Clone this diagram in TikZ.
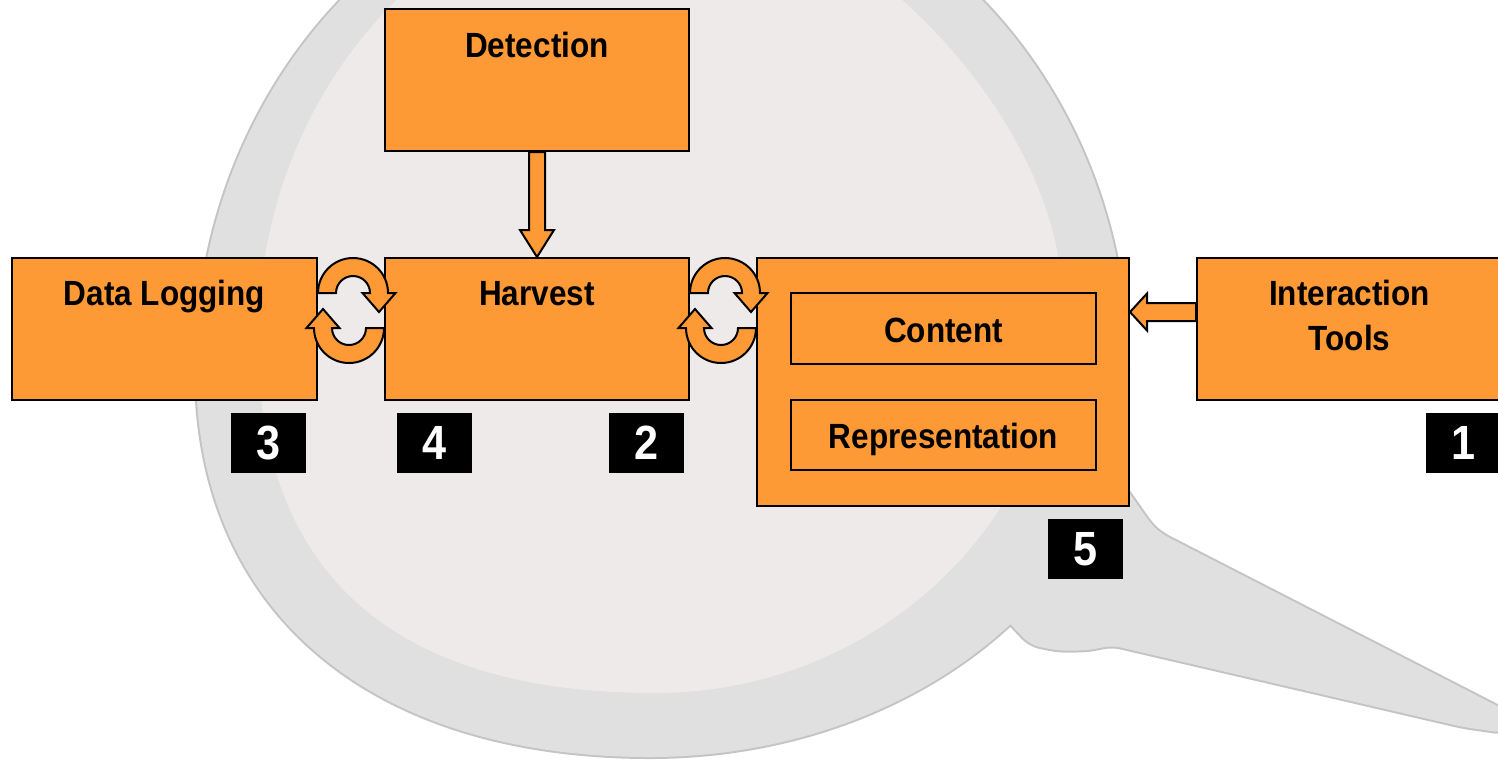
\documentclass[tikz,border=0pt]{standalone}
\usepackage{fontspec}
\setmainfont{Liberation Sans}[FakeStretch=0.9]
\usetikzlibrary{calc}
\definecolor{org}{HTML}{FD9A35}
\definecolor{ringc}{HTML}{E0E0E0}
\definecolor{ringedge}{HTML}{C4C4C4}
\definecolor{discc}{HTML}{EEEAE9}
\begin{document}
\begin{tikzpicture}[x=0.5pt,y=-0.5pt,
  box/.style={draw=black, line width=1pt, fill=org, inner sep=0pt},
  lbl/.style={font=\fontsize{17.5}{21}\selectfont\bfseries, anchor=base, inner sep=0pt},
  numbox/.style={fill=black, text=white, minimum width=37.5pt, minimum height=30pt, inner sep=0pt, font=\fontsize{24}{28}\selectfont\bfseries},
  blockarrow/.style={draw=black, line width=1pt, fill=org, line join=miter}]
\useasboundingbox (0,0) rectangle (1498,762);
\clip (0,0) rectangle (1498,762);
% ---------- background magnifier / bubble ----------
\def\outerpath{(660,-140) .. controls (403.9,-140) and (196,88.5) .. (196,370) .. controls (196,609.9) and (368.5,757) .. (650,757) .. controls (913.9,757) and (1128,583.6) .. (1128,370) .. controls (1128,88.5) and (918.3,-140) .. (660,-140) -- cycle}
\def\tailpts{(1080,500) -- (1122,483) -- (1140,508) -- (1150,523) -- (1160,533) -- (1433,673) -- (1505,710) -- (1505,733) -- (1463,727) -- (1110,645) -- (1093,650) -- (1060,651) -- (1030,645) -- (1000,613) -- (1040,570) -- cycle}
\path[draw=ringedge, line width=2pt] \outerpath;
\path[draw=ringedge, line width=2pt, rounded corners=5pt] \tailpts;
\path[fill=ringc] \outerpath;
\path[fill=ringc, rounded corners=5pt] \tailpts;
\path[fill=discc] (660,-110) .. controls (438.1,-110) and (258,91.6) .. (258,340) .. controls (258,573) and (393,693) .. (655,693) .. controls (879.7,693) and (1062,516.9) .. (1062,300) .. controls (1062,115) and (841,-110) .. (660,-110) -- cycle;
% ---------- boxes ----------
\node[box, minimum width=152pt, minimum height=71pt] (det) at (537,80) {};
\node[box, minimum width=152.5pt, minimum height=71pt] (dl) at (164.5,329) {};
\node[box, minimum width=152pt, minimum height=71pt] (hv) at (537,329) {};
\node[box, minimum width=186pt, minimum height=124pt] (big) at (943,382) {};
\node[box, minimum width=152.5pt, minimum height=35.5pt] (cont) at (943.5,328.5) {};
\node[box, minimum width=152.5pt, minimum height=35pt] (rep) at (943.5,435) {};
\node[box, minimum width=152.5pt, minimum height=71pt] (it) at (1349.5,329) {};
% ---------- labels ----------
\node[lbl] (dett) at (537,57) {Detection};
\node[lbl] (dlt) at (164.5,305) {Data Logging};
\node[lbl] (hvt) at (537,305) {Harvest};
\node[lbl] (itt1) at (1349.5,305) {Interaction};
\node[lbl] (itt2) at (1349.5,350) {Tools};
\node[lbl] (contt) at (943.5,342) {Content};
\node[lbl] (rept) at (943.5,448) {Representation};
% ---------- numbers ----------
\node[numbox] (n3) at (268.5,443) {3};
\node[numbox] (n4) at (434.5,443) {4};
\node[numbox] (n2) at (646.5,443) {2};
\node[numbox] (n5) at (1085.5,549) {5};
\node[numbox] (n1) at (1463.5,443) {1};
% ---------- Detection -> Harvest ----------
\draw[blockarrow] ($(det.south)+(-8,0)$) -- ($(hv.north)+(-8,-27)$) -- ($(hv.north)+(-17,-27)$) -- (hv.north) -- ($(hv.north)+(17,-27)$) -- ($(hv.north)+(8,-27)$) -- ($(det.south)+(8,0)$) -- cycle;
% ---------- Interaction Tools -> big box ----------
\coordinate (ita) at ($(it.west)+(0,-17)$);
\coordinate (bga) at (big.east |- ita);
\draw[blockarrow] ($(ita)+(0,-9)$) -- ($(bga)+(17,-9)$) -- ($(bga)+(17,-18.5)$) -- (bga) -- ($(bga)+(17,18.5)$) -- ($(bga)+(17,9)$) -- ($(ita)+(0,9)$) -- cycle;
% ---------- cycle arrows ----------
\coordinate (c1) at ($(dl.east)+(35,-36)$);
\coordinate (c2) at ($(hv.west)+(-35,-1)$);
\coordinate (c3) at ($(hv.east)+(35,-36)$);
\coordinate (c4) at ($(big.west |- hv.west)+(-35,-1)$);
\foreach \c in {c1,c3}{
  \draw[blockarrow] ($(\c)+(-35,0)$) arc[start angle=180,end angle=360,radius=35] -- ($(\c)+(42.5,0)$) -- ($(\c)+(26,19)$) -- ($(\c)+(9.5,0)$) -- ($(\c)+(17,0)$) arc[start angle=360,end angle=180,radius=17] -- cycle;
}
\foreach \c in {c2,c4}{
  \draw[blockarrow] ($(\c)+(35,0)$) arc[start angle=0,end angle=180,radius=35] -- ($(\c)+(-42.5,0)$) -- ($(\c)+(-26,-19)$) -- ($(\c)+(-9.5,0)$) -- ($(\c)+(-17,0)$) arc[start angle=180,end angle=0,radius=17] -- cycle;
}
\end{tikzpicture}
\end{document}
